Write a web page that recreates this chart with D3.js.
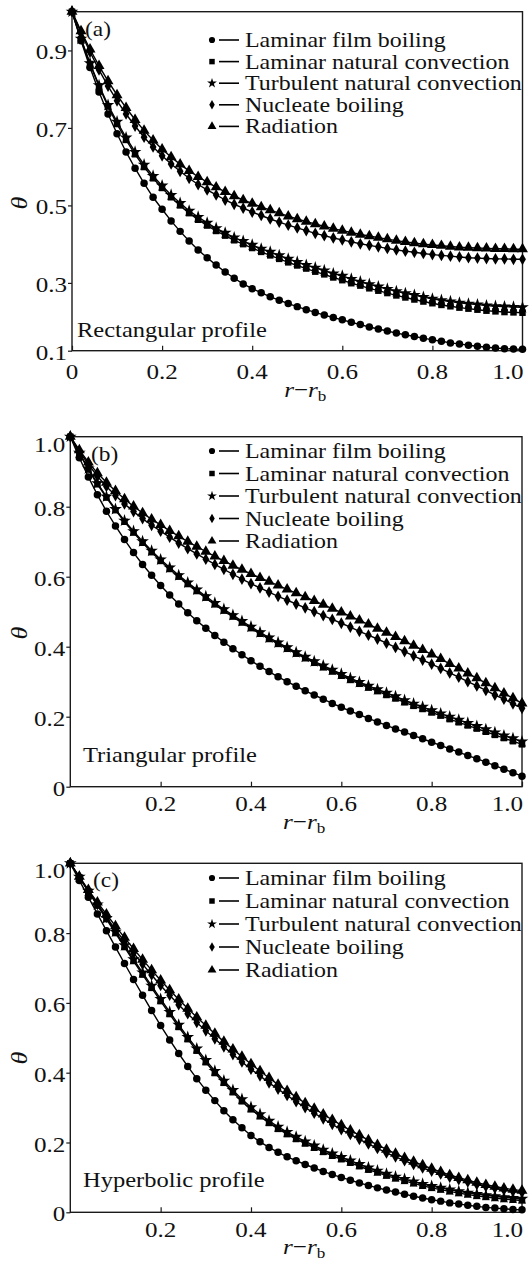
<!DOCTYPE html>
<html>
<head>
<meta charset="utf-8">
<script src="https://cdn.jsdelivr.net/npm/d3@7"></script>
<style>
  body { margin: 0; background: #fff; }
  svg { display: block; }
  text { font-family: "Liberation Serif", "Times New Roman", serif; fill: #111; }
</style>
</head>
<body>
<svg id="chart" width="531" height="1262"></svg>
<script>
// Dimensionless position along the fin, r - r_b
const rPos = [0, 0.02, 0.04, 0.06, 0.08, 0.10, 0.12, 0.14, 0.16, 0.18, 0.20, 0.22, 0.24, 0.26, 0.28, 0.30, 0.32, 0.34, 0.36, 0.38, 0.40, 0.42, 0.44, 0.46, 0.48, 0.50, 0.52, 0.54, 0.56, 0.58, 0.60, 0.62, 0.64, 0.66, 0.68, 0.70, 0.72, 0.74, 0.76, 0.78, 0.80, 0.82, 0.84, 0.86, 0.88, 0.90, 0.92, 0.94, 0.96, 0.98, 1.00];

const seriesNames = ["Laminar film boiling", "Laminar natural convection", "Turbulent natural convection", "Nucleate boiling", "Radiation"];

// (a) Rectangular profile
const filmRect = [1.0, 0.925, 0.856, 0.793, 0.736, 0.685, 0.638, 0.596, 0.557, 0.521, 0.490, 0.460, 0.433, 0.408, 0.385, 0.365, 0.346, 0.328, 0.312, 0.297, 0.283, 0.271, 0.259, 0.249, 0.239, 0.230, 0.221, 0.213, 0.205, 0.198, 0.191, 0.184, 0.177, 0.170, 0.164, 0.158, 0.152, 0.147, 0.142, 0.137, 0.132, 0.128, 0.123, 0.120, 0.116, 0.113, 0.110, 0.108, 0.106, 0.105, 0.104];
const laminarRect = [1.0, 0.929, 0.865, 0.807, 0.755, 0.710, 0.669, 0.632, 0.599, 0.570, 0.545, 0.521, 0.500, 0.480, 0.463, 0.448, 0.434, 0.422, 0.410, 0.400, 0.390, 0.380, 0.371, 0.362, 0.353, 0.345, 0.337, 0.329, 0.322, 0.314, 0.307, 0.299, 0.292, 0.284, 0.277, 0.270, 0.263, 0.257, 0.251, 0.245, 0.240, 0.235, 0.231, 0.227, 0.224, 0.221, 0.218, 0.216, 0.214, 0.213, 0.212];
const turbulentRect = [1.0, 0.930, 0.867, 0.810, 0.759, 0.716, 0.675, 0.638, 0.605, 0.576, 0.551, 0.527, 0.506, 0.486, 0.470, 0.455, 0.441, 0.429, 0.417, 0.408, 0.398, 0.388, 0.380, 0.371, 0.362, 0.354, 0.346, 0.339, 0.332, 0.324, 0.318, 0.310, 0.303, 0.296, 0.289, 0.282, 0.275, 0.269, 0.264, 0.258, 0.253, 0.249, 0.245, 0.241, 0.238, 0.236, 0.233, 0.231, 0.230, 0.229, 0.228];
const nucleateRect = [1.0, 0.946, 0.896, 0.850, 0.808, 0.770, 0.736, 0.705, 0.676, 0.651, 0.628, 0.607, 0.588, 0.570, 0.554, 0.540, 0.527, 0.514, 0.503, 0.493, 0.483, 0.474, 0.465, 0.457, 0.449, 0.442, 0.435, 0.428, 0.422, 0.416, 0.411, 0.406, 0.401, 0.397, 0.393, 0.389, 0.385, 0.382, 0.379, 0.376, 0.373, 0.371, 0.369, 0.367, 0.365, 0.364, 0.363, 0.362, 0.362, 0.361, 0.361];
const radiationRect = [1.0, 0.950, 0.903, 0.860, 0.821, 0.785, 0.752, 0.721, 0.693, 0.668, 0.645, 0.625, 0.606, 0.589, 0.574, 0.560, 0.547, 0.535, 0.524, 0.514, 0.505, 0.496, 0.488, 0.480, 0.472, 0.465, 0.458, 0.452, 0.446, 0.440, 0.435, 0.430, 0.425, 0.421, 0.417, 0.413, 0.409, 0.406, 0.403, 0.400, 0.398, 0.396, 0.394, 0.392, 0.391, 0.390, 0.389, 0.388, 0.388, 0.387, 0.387];

// (b) Triangular profile
const filmTri = [1.0, 0.940, 0.885, 0.834, 0.787, 0.745, 0.706, 0.669, 0.635, 0.604, 0.575, 0.548, 0.522, 0.497, 0.474, 0.453, 0.432, 0.413, 0.394, 0.377, 0.360, 0.344, 0.329, 0.314, 0.300, 0.287, 0.274, 0.262, 0.250, 0.238, 0.227, 0.216, 0.206, 0.195, 0.185, 0.175, 0.165, 0.156, 0.146, 0.137, 0.127, 0.118, 0.108, 0.099, 0.089, 0.080, 0.070, 0.060, 0.050, 0.040, 0.030];
const laminarTri = [1.0, 0.952, 0.906, 0.864, 0.826, 0.790, 0.757, 0.726, 0.697, 0.670, 0.645, 0.622, 0.600, 0.579, 0.559, 0.540, 0.521, 0.503, 0.486, 0.469, 0.453, 0.437, 0.422, 0.408, 0.394, 0.380, 0.367, 0.354, 0.341, 0.329, 0.317, 0.305, 0.294, 0.283, 0.273, 0.262, 0.252, 0.241, 0.231, 0.222, 0.212, 0.203, 0.193, 0.184, 0.175, 0.166, 0.157, 0.148, 0.139, 0.130, 0.121];
const turbulentTri = [1.0, 0.954, 0.909, 0.867, 0.829, 0.793, 0.760, 0.730, 0.701, 0.674, 0.649, 0.626, 0.604, 0.583, 0.563, 0.544, 0.525, 0.507, 0.490, 0.473, 0.457, 0.441, 0.426, 0.412, 0.398, 0.384, 0.371, 0.358, 0.346, 0.334, 0.322, 0.310, 0.299, 0.288, 0.278, 0.268, 0.258, 0.247, 0.237, 0.228, 0.218, 0.209, 0.200, 0.191, 0.182, 0.173, 0.164, 0.155, 0.146, 0.138, 0.129];
const nucleateTri = [1.0, 0.958, 0.921, 0.887, 0.858, 0.832, 0.808, 0.786, 0.766, 0.747, 0.730, 0.713, 0.696, 0.680, 0.665, 0.650, 0.635, 0.621, 0.607, 0.593, 0.580, 0.568, 0.556, 0.544, 0.533, 0.522, 0.511, 0.500, 0.489, 0.478, 0.467, 0.456, 0.444, 0.433, 0.422, 0.410, 0.398, 0.386, 0.374, 0.362, 0.350, 0.338, 0.325, 0.313, 0.300, 0.288, 0.275, 0.262, 0.250, 0.237, 0.224];
const radiationTri = [1.0, 0.962, 0.927, 0.896, 0.869, 0.845, 0.822, 0.801, 0.782, 0.764, 0.748, 0.731, 0.716, 0.700, 0.686, 0.672, 0.658, 0.645, 0.632, 0.620, 0.608, 0.597, 0.586, 0.575, 0.564, 0.553, 0.542, 0.531, 0.520, 0.509, 0.498, 0.487, 0.475, 0.464, 0.452, 0.440, 0.428, 0.416, 0.403, 0.391, 0.378, 0.365, 0.351, 0.338, 0.324, 0.310, 0.296, 0.282, 0.267, 0.253, 0.238];

// (c) Hyperbolic profile
const filmHyp = [1.0, 0.951, 0.903, 0.855, 0.807, 0.760, 0.713, 0.667, 0.622, 0.578, 0.535, 0.494, 0.455, 0.418, 0.383, 0.350, 0.320, 0.291, 0.265, 0.242, 0.220, 0.202, 0.186, 0.172, 0.159, 0.148, 0.137, 0.127, 0.117, 0.108, 0.100, 0.092, 0.084, 0.077, 0.070, 0.064, 0.058, 0.052, 0.046, 0.041, 0.036, 0.032, 0.027, 0.024, 0.020, 0.017, 0.014, 0.012, 0.010, 0.008, 0.007];
const laminarHyp = [1.0, 0.960, 0.919, 0.879, 0.840, 0.800, 0.760, 0.720, 0.681, 0.643, 0.605, 0.568, 0.531, 0.496, 0.463, 0.430, 0.399, 0.371, 0.344, 0.318, 0.295, 0.275, 0.256, 0.239, 0.224, 0.210, 0.197, 0.185, 0.173, 0.162, 0.152, 0.142, 0.132, 0.122, 0.114, 0.105, 0.097, 0.090, 0.083, 0.076, 0.070, 0.065, 0.060, 0.055, 0.051, 0.047, 0.044, 0.041, 0.038, 0.036, 0.034];
const turbulentHyp = [1.0, 0.961, 0.921, 0.882, 0.843, 0.804, 0.765, 0.725, 0.687, 0.649, 0.611, 0.574, 0.537, 0.502, 0.469, 0.436, 0.405, 0.377, 0.350, 0.324, 0.301, 0.281, 0.262, 0.245, 0.230, 0.216, 0.203, 0.191, 0.179, 0.168, 0.158, 0.148, 0.138, 0.128, 0.119, 0.110, 0.102, 0.095, 0.088, 0.081, 0.075, 0.070, 0.065, 0.060, 0.056, 0.052, 0.049, 0.046, 0.043, 0.041, 0.039];
const nucleateHyp = [1.0, 0.960, 0.920, 0.882, 0.846, 0.810, 0.776, 0.743, 0.711, 0.680, 0.650, 0.622, 0.595, 0.569, 0.544, 0.520, 0.497, 0.474, 0.452, 0.431, 0.410, 0.391, 0.371, 0.353, 0.335, 0.317, 0.300, 0.284, 0.268, 0.252, 0.237, 0.223, 0.209, 0.196, 0.183, 0.170, 0.159, 0.148, 0.137, 0.127, 0.118, 0.110, 0.101, 0.094, 0.087, 0.080, 0.074, 0.069, 0.064, 0.060, 0.057];
const radiationHyp = [1.0, 0.962, 0.924, 0.888, 0.854, 0.820, 0.787, 0.755, 0.724, 0.694, 0.665, 0.637, 0.610, 0.584, 0.559, 0.535, 0.512, 0.489, 0.467, 0.446, 0.425, 0.405, 0.385, 0.366, 0.348, 0.330, 0.313, 0.297, 0.281, 0.265, 0.250, 0.235, 0.221, 0.207, 0.193, 0.180, 0.168, 0.156, 0.145, 0.135, 0.125, 0.116, 0.107, 0.099, 0.092, 0.085, 0.079, 0.074, 0.069, 0.065, 0.062];

const panelTags = ["(a)", "(b)", "(c)"];
const profileNames = ["Rectangular profile", "Triangular profile", "Hyperbolic profile"];
const yTicksRect = [0.1, 0.3, 0.5, 0.7, 0.9];
const yTicksOther = [0, 0.2, 0.4, 0.6, 0.8, 1.0];
const xTicksRect = [0, 0.2, 0.4, 0.6, 0.8, 1.0];
const xTicksOther = [0.2, 0.4, 0.6, 0.8, 1.0];

// ---- layout ----
const SX = 1.14; // glyphs in this figure are slightly wide
const FONT = 21;
const TICK_FONT = 22;

const panels = [
  { series: [filmRect, laminarRect, turbulentRect, nucleateRect, radiationRect],
    left: 72, right: 522.5, top: 11.7, bottom: 350.7,
    yDomain: [0.1, 0.3, 1.0], yRange: [350.7, 282.9, 11.7],
    yTicks: yTicksRect, xTicks: xTicksRect,
    tagX: 85, legendY: 40, legendStep: 21.6, profX: 77, profY: 337,
    tickDy: 28, titleDy: 46, thetaY: 203 },
  { series: [filmTri, laminarTri, turbulentTri, nucleateTri, radiationTri],
    left: 70.3, right: 522, top: 436.7, bottom: 786.7,
    yDomain: [0, 1], yRange: [786.7, 436.7],
    yTicks: yTicksOther, xTicks: xTicksOther,
    tagX: 91, legendY: 451, legendStep: 22.5, profX: 83, profY: 762,
    tickDy: 24, titleDy: 42, thetaY: 633 },
  { series: [filmHyp, laminarHyp, turbulentHyp, nucleateHyp, radiationHyp],
    left: 70.3, right: 522, top: 863.3, bottom: 1212.3,
    yDomain: [0, 1], yRange: [1212.3, 863.3],
    yTicks: yTicksOther, xTicks: xTicksOther,
    tagX: 93, legendY: 878, legendStep: 23, profX: 83, profY: 1187,
    tickDy: 25, titleDy: 42, thetaY: 1058 }
];

const symbolTypes = [d3.symbolCircle, d3.symbolSquare, d3.symbolStar, d3.symbolDiamond, d3.symbolTriangle];
const symbolSizes = [44, 42, 50, 40, 52];
const legendSizes = [30, 30, 30, 26, 34];

const svg = d3.select("#chart");
svg.append("rect").attr("width", 531).attr("height", 1262).attr("fill", "#fff");

function wideText(g, x, y, str, size, anchor) {
  return g.append("text")
    .attr("transform", `translate(${x},${y}) scale(${SX},1)`)
    .attr("text-anchor", anchor || "start")
    .attr("font-size", size)
    .text(str);
}

const fmt = d => d === 0 ? "0" : d3.format(".1f")(d);

panels.forEach((p, pi) => {
  const g = svg.append("g");
  const x = d3.scaleLinear().domain([0, 1]).range([p.left, p.right]);
  const y = d3.scaleLinear().domain(p.yDomain).range(p.yRange);

  // frame
  g.append("rect")
    .attr("x", p.left).attr("y", p.top)
    .attr("width", p.right - p.left).attr("height", p.bottom - p.top)
    .attr("fill", "none").attr("stroke", "#1a1a1a").attr("stroke-width", 1.4);

  // x ticks (inward) and labels; the last label sits flush with the frame end
  const xAxis = d3.axisTop(x).tickValues(p.xTicks).tickSize(5).tickFormat("");
  const xg = g.append("g").attr("transform", `translate(0,${p.bottom})`).call(xAxis);
  xg.select(".domain").remove();
  xg.selectAll("line").attr("stroke", "#1a1a1a").attr("stroke-width", 1.2);
  p.xTicks.forEach((t, i) => {
    const last = i === p.xTicks.length - 1;
    wideText(g, last ? x(t) + 1 : x(t), p.bottom + p.tickDy, fmt(t), TICK_FONT, last ? "end" : "middle");
  });

  // y ticks (outward) and labels, kept inside the frame height
  const yAxis = d3.axisLeft(y).tickValues(p.yTicks).tickSize(4).tickFormat("");
  const yg = g.append("g").attr("transform", `translate(${p.left},0)`).call(yAxis);
  yg.select(".domain").remove();
  yg.selectAll("line").attr("stroke", "#1a1a1a").attr("stroke-width", 1.2);
  p.yTicks.forEach(t => {
    const base = Math.max(y(t) + 9, p.top + 15);
    wideText(g, p.left - 5, base, fmt(t), TICK_FONT, "end");
  });

  // axis titles
  const xt = g.append("text")
    .attr("transform", `translate(${(p.left + p.right) / 2 + 8},${p.bottom + p.titleDy}) scale(${SX},1)`)
    .attr("text-anchor", "middle").attr("font-size", 22);
  xt.append("tspan").attr("font-style", "italic").text("r");
  xt.append("tspan").text("\u2212");
  xt.append("tspan").attr("font-style", "italic").text("r");
  xt.append("tspan").attr("font-size", 15).attr("dy", 4).text("b");

  g.append("text")
    .attr("transform", `translate(27,${p.thetaY}) rotate(-90) scale(${SX},1)`)
    .attr("text-anchor", "middle").attr("font-size", 23).attr("font-style", "italic")
    .text("\u03b8");

  // curves
  const line = d3.line().x((d, i) => x(rPos[i])).y(d => y(d));
  p.series.forEach(vals => {
    g.append("path").datum(vals).attr("d", line)
      .attr("fill", "none").attr("stroke", "#000").attr("stroke-width", 1.4);
  });
  p.series.forEach((vals, si) => {
    const sym = d3.symbol().type(symbolTypes[si]).size(symbolSizes[si]);
    g.append("g").selectAll("path").data(vals).join("path")
      .attr("transform", (d, i) => `translate(${x(rPos[i])},${y(d)})`)
      .attr("d", sym).attr("fill", "#000");
  });

  // panel tag and profile name
  wideText(g, p.tagX, p.top + 24, panelTags[pi], 20.5);
  wideText(g, p.profX, p.profY, profileNames[pi], 21.5);

  // legend
  seriesNames.forEach((name, si) => {
    const ly = p.legendY + si * p.legendStep;
    g.append("path")
      .attr("transform", `translate(212,${ly})`)
      .attr("d", d3.symbol().type(symbolTypes[si]).size(legendSizes[si]))
      .attr("fill", "#000");
    g.append("line").attr("x1", 219).attr("x2", 239).attr("y1", ly).attr("y2", ly)
      .attr("stroke", "#000").attr("stroke-width", 1.6);
    wideText(g, 245, ly + 7, name, FONT);
  });
});
</script>
</body>
</html>
